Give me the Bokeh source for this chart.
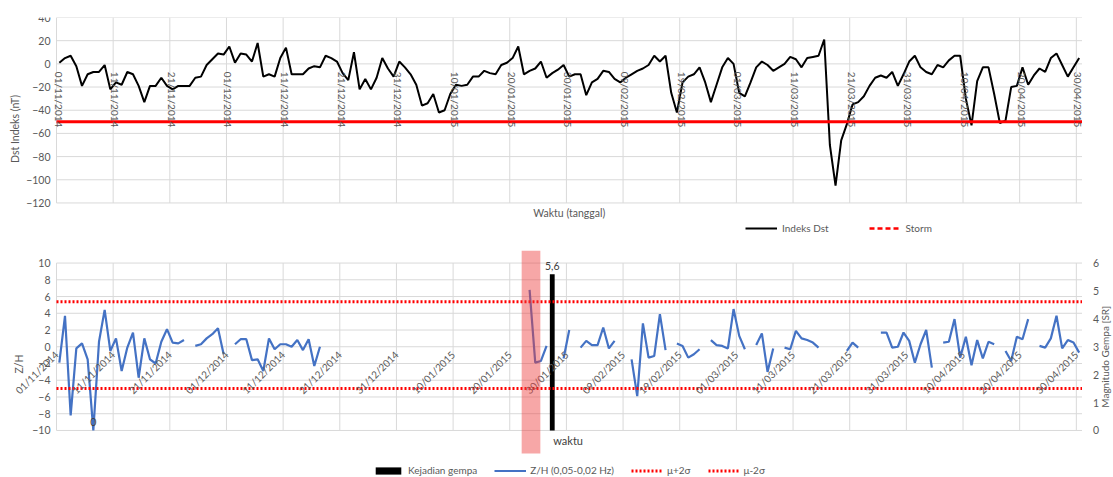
import math
import pandas as pd
from bokeh.plotting import figure
from bokeh.layouts import column
from bokeh.models import (Range1d, LinearAxis, FixedTicker, Legend, LegendItem,
                          BoxAnnotation, ColumnDataSource, LabelSet, Label)
from bokeh.core.properties import value
from bokeh.embed import file_html
from bokeh.resources import INLINE

FONT = "Lato"
GREY = "#595959"
GRID = "#D9D9D9"

# ---------------------------------------------------------------- data
START = pd.Timestamp("2014-11-01")

tick_labels = ["01/11/2014", "11/11/2014", "21/11/2014", "01/12/2014", "11/12/2014",
               "21/12/2014", "31/12/2014", "10/01/2015", "20/01/2015", "30/01/2015",
               "09/02/2015", "19/02/2015", "01/03/2015", "11/03/2015", "21/03/2015",
               "31/03/2015", "10/04/2015", "20/04/2015", "30/04/2015"]

# daily Dst index (nT), 01/11/2014 .. 30/04/2015
dst = [1, 5, 7, -2, -19, -9, -7, -7, -1, -22,
       -16, -18, -7, -9, -19, -33, -19, -19, -12, -19,
       -22, -19, -19, -19, -12, -11, -1, 4, 9, 8,
       15, 1, 9, 8, 2, 18, -11, -9, -11, 5,
       14, -9, -9, -9, -4, -2, -3, 7, 5, 2,
       -8, -14, 10, -22, -13, -22, -12, 5, -4, -11,
       2, -3, -9, -18, -36, -34, -26, -42, -40, -26,
       -18, -19, -18, -11, -11, -6, -8, -9, -1, 1,
       5, 15, -9, -6, -4, 2, -12, -8, -5, -1,
       -11, -9, -9, -27, -16, -13, -6, -7, -13, -16,
       -12, -9, -6, -4, -1, 7, 2, 7, -25, -42,
       -16, -11, -9, -3, -16, -33, -18, -3, 5, 0,
       -25, -28, -16, -3, 2, -1, -6, -3, 0, 6,
       4, -3, 5, 6, 7, 21, -70, -105, -66, -52,
       -35, -33, -28, -19, -12, -10, -12, -7, -19, -9,
       2, 7, -3, -7, -9, -1, -3, 3, 7, 7,
       -30, -53, -15, -3, -3, -26, -51, -49, -20, -19,
       -3, -18, -10, -4, -7, 5, 9, -1, -11, -3,
       5]
storm_level = -50
dst_ticks = [-120, -100, -80, -60, -40, -20, 0, 20, 40]

N = float("nan")
# daily Z/H ratio (0,05-0,02 Hz); NaN = no record
zh = [-1.9, 3.7, -8.2, -0.2, 0.4, -1.5, -10.0, 0.6, 4.4, -0.5,
      1.0, -2.9, -0.1, 1.7, -3.7, 1.0, -1.5, -2.0, 0.6, 2.1,
      0.5, 0.4, 0.8, N, 0.1, 0.3, 1.0, 1.5, 2.2, -0.9,
      N, 0.3, 0.9, 0.9, -1.6, -1.5, -2.9, 1.0, -0.3, 0.3,
      0.3, 0.0, 0.8, -0.4, 0.9, -2.3, 0.0, N, N, N,
      N, N, N, N, N, N, N, N, N, N,
      N, N, N, N, N, N, N, N, N, N,
      N, N, N, N, N, N, N, N, N, N,
      N, N, N, 6.8, -1.9, -1.7, 0.1, N, N, -1.4,
      2.0, N, -0.1, 0.7, 0.2, 0.2, 2.3, -0.2, 0.7, N,
      N, -1.5, -5.9, 2.8, -1.3, -1.1, 3.9, -0.4, N, 0.4,
      0.1, -1.3, -0.9, -0.3, N, 0.8, 0.2, 0.1, -0.2, 4.5,
      1.3, -0.3, N, 0.2, 1.6, -3.0, -0.2, N, -0.1, -0.3,
      1.9, 1.0, 0.8, 0.5, -0.1, N, N, N, N, -0.5,
      0.5, -0.1, N, N, N, 1.7, 1.7, -0.1, 0.0, 1.7,
      0.7, -1.9, 0.3, 2.0, -2.5, N, 0.5, 0.6, 3.3, -1.3,
      1.2, -2.2, 0.8, -1.4, 0.6, 0.3, N, -0.5, -1.7, 1.2,
      0.9, 3.3, N, 0.1, -0.1, 1.0, 3.7, -0.2, 0.8, 0.5,
      -0.7]
mu_plus_2sigma = 5.38
mu_minus_2sigma = -4.98
zh_ticks = [-10, -8, -6, -4, -2, 0, 2, 4, 6, 8, 10]

# earthquake events (magnitude, SR)
eq_dates = ["07/11/2014", "27/01/2015"]
eq_mag = [0, 5.6]
mag_ticks = [0, 1, 2, 3, 4, 5, 6]

# anomaly window highlighted before the earthquake (days since 01/11/2014)
window_start, window_end = 82.1, 85.4

# ---------------------------------------------------------------- helpers
def day_of(label):
    return (pd.to_datetime(label, format="%d/%m/%Y") - START).days

tick_days = [day_of(t) for t in tick_labels]
tick_text = {d: t for d, t in zip(tick_days, tick_labels)}
# each daily value sits in the middle of its day cell
dst_x = [i + 0.5 for i in range(len(dst))]
zh_x = [i + 0.5 for i in range(len(zh))]
eq_x = [day_of(d) + 0.5 for d in eq_dates]

# plotting area spans the days; the frame runs edge to edge so that the axes,
# pinned to the area's borders, can draw their labels without being cut
W = 1113
PAD_L, PAD_R = 56, 31.5
X0, X1 = 0, len(dst)
scale = (W - PAD_L - PAD_R) / (X1 - X0)
XL, XR = X0 - PAD_L / scale, X1 + PAD_R / scale
axis_cross = 0


def style_axis(ax, standoff, size="10.5px"):
    ax.axis_line_color = None
    ax.major_tick_line_color = None
    ax.minor_tick_line_color = None
    ax.major_tick_out = 0
    ax.major_tick_in = 0
    ax.minor_tick_out = 0
    ax.minor_tick_in = 0
    ax.major_label_text_font = FONT
    ax.major_label_text_font_size = size
    ax.major_label_text_color = GREY
    ax.major_label_standoff = standoff


def value_axis(ax, ticks, label, standoff, label_standoff, location):
    ax.fixed_location = location
    ax.ticker = FixedTicker(ticks=ticks)
    style_axis(ax, standoff)
    if label:
        ax.axis_label = label
        ax.axis_label_text_font = FONT
        ax.axis_label_text_font_size = "10.5px"
        ax.axis_label_text_font_style = "normal"
        ax.axis_label_text_color = GREY
        ax.axis_label_standoff = label_standoff


def gridlines(p, y_ticks):
    p.xgrid.visible = False
    p.ygrid.visible = False
    p.segment(x0=tick_days, y0=y_ticks[0], x1=tick_days, y1=y_ticks[-1],
              line_color=GRID, line_width=1)
    p.segment(x0=X0, y0=y_ticks, x1=X1, y1=y_ticks, line_color=GRID, line_width=1)


def new_panel(height, y0, y1, top):
    p = figure(width=W, height=height, x_range=Range1d(XL, XR), y_range=Range1d(y0, y1),
               output_backend="svg", toolbar_location=None, min_border_left=0,
               min_border_right=0, min_border_top=top, min_border_bottom=0)
    p.outline_line_color = None
    return p


# ---------------------------------------------------------------- Dst panel
p1 = new_panel(240, -152.4, 40.0, 17)
p1.xaxis.visible = False
value_axis(p1.yaxis[0], dst_ticks, "Dst Indeks (nT)", 6, 2, X0)
gridlines(p1, dst_ticks)

dst_r = p1.line(dst_x, dst, line_color="black", line_width=2)
p1.line([X0, X1], [storm_level, storm_level], line_color="#FF0000", line_width=3)
storm_key = p1.line([N], [N], line_color="#FF0000", line_width=2.5, line_dash="5 3")

top_src = ColumnDataSource(dict(x=tick_days, y=[axis_cross] * len(tick_days), t=tick_labels))
p1.add_layout(LabelSet(x="x", y="y", text="t", source=top_src, angle=-math.pi / 2,
                       text_align="left", text_baseline="middle", x_offset=2, y_offset=-8,
                       text_font=value(FONT), text_font_size="10px", text_color=GREY))

p1.add_layout(Label(x=(X0 + X1) / 2, y=dst_ticks[0], text="Waktu (tanggal)", y_offset=-10,
                    text_align="center", text_baseline="middle", text_font=FONT,
                    text_font_size="10.5px", text_color=GREY))

leg1 = Legend(items=[LegendItem(label="Indeks Dst", renderers=[dst_r]),
                     LegendItem(label="Storm", renderers=[storm_key])],
              location=(745, 6), orientation="horizontal", padding=0, margin=0,
              spacing=40, glyph_width=32, glyph_height=12, label_height=12,
              label_standoff=5, border_line_color=None, background_fill_alpha=0,
              label_text_font=FONT, label_text_font_size="10px",
              label_text_color=GREY)
p1.add_layout(leg1)

# ---------------------------------------------------------------- Z/H panel
Y0, Y1 = -15.62, 11.5
band_bottom = -12.75


def to_mag(v):
    return (v - zh_ticks[0]) * (mag_ticks[-1] - mag_ticks[0]) / (zh_ticks[-1] - zh_ticks[0]) + mag_ticks[0]


p2 = new_panel(237, Y0, Y1, 10)
p2.extra_y_ranges = {"mag": Range1d(to_mag(Y0), to_mag(Y1))}
value_axis(p2.yaxis[0], zh_ticks, "Z/H", 6, 4, X0)
rax = LinearAxis(y_range_name="mag")
value_axis(rax, mag_ticks, None, 11, 0, X1)
p2.add_layout(rax, "right")
gridlines(p2, zh_ticks)

p2.add_layout(Label(x=X1, y=(mag_ticks[0] + mag_ticks[-1]) / 2, y_range_name="mag",
                    text="Magnitudo Gempa [SR]", angle=math.pi / 2, x_offset=23,
                    y_offset=-10, text_align="center", text_baseline="middle",
                    text_font=FONT, text_font_size="10px", text_color=GREY))

# date axis pinned to the zero line, labels hanging below it
xa = p2.xaxis[0]
xa.fixed_location = axis_cross
xa.ticker = FixedTicker(ticks=tick_days)
xa.major_label_overrides = tick_text
xa.major_label_orientation = math.pi / 4
style_axis(xa, 6, size="10px")

zh_r = p2.line(zh_x, zh, line_color="#4472C4", line_width=2.2)
eq_src = ColumnDataSource(dict(x=eq_x, top=eq_mag,
                               t=[f"{m:g}".replace(".", ",") for m in eq_mag]))
bar_r = p2.vbar(x="x", top="top", bottom=0, width=0.85, source=eq_src,
                y_range_name="mag", fill_color="black", line_color=None)
up_r = p2.line([X0, X1], [mu_plus_2sigma] * 2, line_color="#FF0000", line_width=3,
               line_dash="2 2")
lo_r = p2.line([X0, X1], [mu_minus_2sigma] * 2, line_color="#FF0000", line_width=3,
               line_dash="2 2")

p2.add_layout(BoxAnnotation(left=window_start, right=window_end, bottom=band_bottom,
                            fill_color="#EE3B3B", fill_alpha=0.45, line_color=None))

p2.add_layout(LabelSet(x="x", y="top", text="t", source=eq_src, y_range_name="mag",
                       text_align="center", text_baseline="bottom", y_offset=4,
                       text_font=value(FONT), text_font_size="10.5px", text_color="#404040"))
p2.add_layout(Label(x=eq_x[-1], y=0, y_range_name="mag", text="waktu", x_offset=1,
                    y_offset=-10, text_align="left", text_baseline="middle",
                    text_font=FONT, text_font_size="11px", text_color="#404040"))

leg2 = Legend(items=[LegendItem(label="Kejadian gempa", renderers=[bar_r]),
                     LegendItem(label="Z/H (0,05-0,02 Hz)", renderers=[zh_r]),
                     LegendItem(label="\u03bc+2\u03c3", renderers=[up_r]),
                     LegendItem(label="\u03bc-2\u03c3", renderers=[lo_r])],
              location=(372, 1), orientation="horizontal", padding=0, margin=0,
              spacing=17, glyph_width=32, glyph_height=9, label_height=12,
              label_standoff=4, border_line_color=None, background_fill_alpha=0,
              label_text_font=FONT, label_text_font_size="10px",
              label_text_color=GREY)
p2.add_layout(leg2)

page = column(p1, p2)
open("out.html", "w").write(file_html(page, INLINE))
